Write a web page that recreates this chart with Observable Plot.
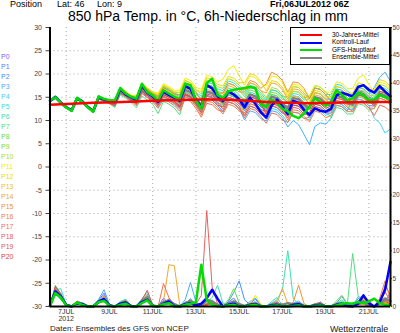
<!DOCTYPE html>
<html><head><meta charset="utf-8">
<script src="https://cdn.jsdelivr.net/npm/d3@7"></script>
<script src="https://cdn.jsdelivr.net/npm/@observablehq/plot@0.6"></script>
<style>
body{margin:0;background:#fff;}
#wrap{position:relative;width:400px;height:333px;overflow:hidden;font-family:"Liberation Sans",Arial,sans-serif;background:#fff;}
#wrap svg{position:absolute;left:0;top:0;}
.t{position:absolute;white-space:pre;line-height:1;}
</style></head><body><div id="wrap"></div>
<script>
// forecast hours from Fri 06JUL2012 06Z
const hours = [0,6,12,18,24,30,36,42,48,54,60,66,72,78,84,90,96,102,108,114,120,126,132,138,144,150,156,162,168,174,180,186,192,198,204,210,216,222,228,234,240,246,252,258,264,270,276,282,288,294,300,306,312,318,324,330,336,342,348,354,360,366,372,378];
const climHours = [0,24,48,72,96,120,144,168,192,216,240,264,288,312,336,360,378];
const dateTicks = [18,66,114,162,210,258,306,354];
const dateLabels = ["7JUL\n2012","9JUL","11JUL","13JUL","15JUL","17JUL","19JUL","21JUL"];
const tempTicks = [-30,-25,-20,-15,-10,-5,0,5,10,15,20,25,30];
const precipTicks = [0,5,10,15,20,25,30,35,40,45,50];
const memberNames = ["P0","P1","P2","P3","P4","P5","P6","P7","P8","P9","P10","P11","P12","P13","P14","P15","P16","P17","P18","P19","P20"];
const memberColors = ["#8060ff","#5a78ff","#4090ff","#40b0ff","#40d0ff","#30e0e0","#40e0b0","#50e080","#60e050","#80e030","#b0e020","#f0f000","#f0d800","#f0c020","#f0a830","#f09030","#f08040","#f07050","#e86060","#e05858","#e04040"];

// 850 hPa temperature (°C)
const climTemp = [13.4,13.6,13.8,13.9,14.1,14.3,14.4,14.5,14.5,14.3,14.0,13.8,13.7,13.8,13.9,14.0,14.0];
const gfsTemp = [14.3,15.0,13.8,12.8, 12.1,14.9,14.0,12.8, 11.9,15.2,14.6,14.4, 14.3,17.0,15.8,15.1, 14.7,17.9,16.1,15.4, 14.3,16.5,15.8,15.1, 14.6,17.9,17.6,14.3, 12.6,18.0,19.0,15.5, 14.8,16.3,16.6,16.8, 17.0,17.2,17.0,13.4, 12.9,14.5,13.8,12.5, 12.0,11.0,10.5,11.5, 13.0,14.8,14.0,13.2, 14.0,16.5,15.5,14.3, 14.8,16.0,15.5,14.3, 14.5,15.5,15.0,14.5];
const ctrlTemp = [14.2,15.1,13.9,12.9, 12.2,14.8,14.1,12.9, 12.0,15.0,14.5,14.2, 14.0,16.8,15.6,15.0, 14.5,17.5,16.0,15.2, 14.0,16.2,15.5,14.9, 14.2,17.4,16.8,14.5, 12.9,17.6,16.9,15.3, 14.2,16.3,15.6,14.6, 12.8,14.9,13.6,11.8, 10.6,13.2,14.5,13.0, 11.4,14.2,13.8,12.3, 11.2,12.6,12.1,11.9, 12.5,15.4,16.0,15.6, 15.2,17.2,17.6,16.6, 16.0,17.4,16.2,15.2];
const meanTemp = [14.2,14.9,13.8,12.8, 12.1,14.7,14.0,12.9, 12.0,14.9,14.4,13.9, 13.6,16.3,15.6,14.7, 14.2,16.8,15.9,15.0, 14.1,16.1,15.5,14.7, 14.0,16.6,16.1,14.6, 13.2,16.2,15.9,14.8, 13.9,16.0,15.6,14.6, 13.6,15.6,15.2,13.9, 12.9,15.1,14.8,13.6, 12.6,14.8,14.6,13.4, 12.7,15.0,14.7,13.6, 13.1,15.3,15.0,13.9, 13.4,15.6,15.3,14.2, 13.6,15.8,15.4,14.4];
const memberTemp = [
[14.2,15.0,13.7,12.9, 12.3,14.9,14.2,13.1, 11.9,14.8,14.3,13.8, 13.9,16.6,15.9,15.0, 14.7,17.3,16.4,15.5, 14.3,16.3,15.7,14.9, 13.5,16.1,15.6,14.1, 12.4,15.4,15.1,14.0, 12.9,15.0,14.6,13.6, 12.1,14.1,13.7,12.4, 11.9,14.1,13.8,12.6, 12.1,14.3,14.1,12.9, 12.7,15.0,14.7,13.6, 13.6,15.8,15.5,14.4, 14.2,16.4,16.1,15.0, 14.6,16.8,16.4,15.4],
[14.1,14.8,13.9,12.7, 11.9,14.5,13.8,12.7, 12.1,15.0,14.5,14.0, 13.3,16.0,15.3,14.4, 13.4,16.0,15.1,14.2, 13.1,15.1,14.5,13.7, 12.8,15.4,14.9,13.4, 11.7,14.7,14.4,13.3, 11.9,14.0,13.6,12.6, 11.1,13.1,12.7,11.4, 10.9,13.1,12.8,11.6, 11.1,13.3,13.1,11.9, 10.7,13.0,12.7,11.6, 11.6,13.8,13.5,12.4, 12.4,14.6,14.3,13.2, 13.1,15.3,14.9,13.9],
[14.3,15.0,13.9,12.9, 12.2,14.8,14.1,13.0, 12.3,15.2,14.7,14.2, 14.1,16.8,16.1,15.2, 15.0,17.6,16.7,15.8, 15.1,17.1,16.5,15.7, 14.5,17.1,16.6,15.1, 13.2,16.2,15.9,14.8, 13.4,15.5,15.1,14.1, 12.6,14.6,14.2,12.9, 12.4,14.6,14.3,13.1, 13.1,15.3,15.1,13.9, 13.7,16.0,15.7,14.6, 14.6,16.8,16.5,15.4, 14.4,16.6,16.3,15.2, 14.1,16.3,15.9,14.9],
[14.1,14.9,13.6,12.7, 12.1,14.7,13.9,12.8, 11.8,14.7,14.2,13.7, 13.1,15.8,15.1,14.2, 13.9,16.5,15.6,14.7, 13.6,15.6,15.0,14.2, 13.0,15.6,15.1,13.6, 11.7,14.7,14.4,13.3, 11.9,14.0,13.6,12.6, 10.1,12.1,11.7,10.4, 9.9,12.1,11.8,10.6, 8.6,10.0,9.1,7.0, 4.8,8.7,9.5,9.2, 10.5,13.3,13.0,12.0, 14.9,17.1,16.8,15.7, 17.1,19.3,20.4,18.4],
[14.2,14.8,13.8,12.9, 12.2,14.8,14.1,13.0, 12.0,14.9,14.4,13.9, 13.8,16.5,15.8,14.9, 13.7,16.3,15.4,14.5, 12.9,14.9,14.3,13.5, 12.5,15.1,14.6,13.1, 12.2,15.2,14.9,13.8, 13.4,15.5,15.1,14.1, 12.1,14.1,13.7,12.4, 10.4,12.6,12.3,11.1, 9.6,11.8,11.6,10.4, 10.2,12.5,12.2,11.1, 11.6,13.8,13.5,12.4, 12.4,14.6,14.3,13.2, 10.5,9.5,7.3,8.2],
[14.3,14.9,13.9,12.8, 12.1,14.7,14.0,12.9, 12.3,15.2,14.7,14.2, 14.2,16.9,16.2,15.3, 15.2,17.8,16.9,16.0, 15.3,17.3,16.7,15.9, 15.5,18.1,17.6,16.1, 15.2,18.2,17.9,16.8, 16.4,18.5,18.1,17.1, 15.6,17.6,17.2,15.9, 14.4,16.6,16.3,15.1, 13.6,15.8,15.6,14.4, 14.7,17.0,16.7,15.6, 15.6,17.8,17.5,16.4, 15.4,17.6,17.3,16.2, 15.1,17.3,16.9,15.9],
[14.1,14.8,13.7,12.7, 12.3,14.9,14.2,13.1, 12.0,14.9,14.4,13.9, 14.0,16.7,16.0,15.1, 14.8,17.4,16.5,15.6, 15.0,17.0,16.4,15.6, 15.2,17.8,17.3,15.8, 14.7,17.7,17.4,16.3, 14.9,17.0,16.6,15.6, 14.1,16.1,15.7,14.4, 14.4,16.6,16.3,15.1, 15.1,17.3,17.1,15.9, 14.7,17.0,16.7,15.6, 14.1,16.3,16.0,14.9, 13.9,16.1,15.8,14.7, 14.6,16.8,16.4,15.4],
[14.2,14.9,13.8,12.8, 12.0,14.6,13.9,12.8, 11.7,14.6,14.1,13.6, 12.8,15.5,14.8,13.9, 12.7,15.3,14.4,13.5, 11.5,14.1,13.5,12.7, 11.2,15.1,14.6,13.1, 12.2,15.2,14.9,13.8, 13.4,15.5,15.1,14.1, 13.6,15.6,15.2,13.9, 13.4,15.6,15.3,14.1, 12.1,14.3,14.1,12.9, 11.2,13.5,13.2,12.1, 10.6,12.8,12.5,11.4, 11.4,13.6,13.3,12.2, 12.6,14.8,14.4,13.4],
[14.4,15.1,14.0,13.0, 12.1,14.7,14.0,12.9, 12.2,15.1,14.6,14.1, 13.9,16.6,15.9,15.0, 14.4,17.0,16.1,15.2, 13.8,15.8,15.2,14.4, 13.5,16.1,15.6,14.1, 13.2,16.2,15.9,14.8, 14.4,16.5,16.1,15.1, 14.6,16.6,16.2,14.9, 13.4,15.6,15.3,14.1, 12.6,14.8,14.6,13.4, 12.2,14.5,14.2,13.1, 12.1,14.3,14.0,12.9, 12.9,15.1,14.8,13.7, 13.6,15.8,15.4,14.4],
[14.2,14.9,13.8,12.8, 12.3,14.9,14.2,13.1, 12.4,15.3,14.8,14.3, 14.1,16.8,16.1,15.2, 15.0,17.6,16.7,15.8, 14.6,16.6,16.0,15.2, 15.0,17.6,17.1,15.6, 14.7,17.7,17.4,16.3, 15.9,18.0,17.6,16.6, 15.1,17.1,16.7,15.4, 13.9,16.1,15.8,14.6, 14.1,16.3,16.1,14.9, 15.2,17.5,17.2,16.1, 15.1,17.3,17.0,15.9, 14.9,17.1,16.8,15.7, 14.6,16.8,16.4,15.4],
[14.3,15.0,13.9,12.9, 12.1,14.7,14.0,12.9, 12.2,15.1,14.6,14.1, 14.1,16.8,16.1,15.2, 15.1,17.7,16.8,15.9, 15.4,17.4,16.8,16.0, 16.0,18.6,18.1,16.6, 15.7,18.7,18.4,17.3, 16.9,19.0,18.6,17.6, 16.1,18.1,17.7,16.4, 14.9,17.1,16.8,15.6, 14.1,16.3,16.1,14.9, 13.7,16.0,15.7,14.6, 13.6,15.8,15.5,14.4, 14.4,16.6,16.3,15.2, 15.6,17.8,17.4,16.4],
[14.2,14.9,13.8,12.8, 12.3,14.9,14.2,13.1, 12.4,15.3,14.8,14.3, 14.3,17.0,16.3,15.4, 15.4,18.0,17.1,16.2, 15.9,17.9,17.3,16.5, 16.5,19.1,18.6,17.1, 16.7,19.7,19.4,18.3, 18.9,21.0,21.8,19.6, 17.6,19.6,19.2,17.9, 17.4,19.6,19.3,18.1, 15.6,17.8,17.6,16.4, 15.2,17.5,17.2,16.1, 16.1,18.3,18.0,16.9, 16.9,19.1,19.8,17.7, 16.1,18.3,17.9,16.9],
[14.3,15.0,13.9,12.9, 12.2,14.8,14.1,13.0, 12.3,15.2,14.7,14.2, 14.2,16.9,16.2,15.3, 15.2,17.8,16.9,16.0, 15.6,17.6,17.0,16.2, 16.0,18.6,18.1,16.6, 16.2,19.2,18.9,17.8, 17.4,19.5,19.1,18.1, 18.1,20.1,19.7,18.4, 16.4,18.6,18.3,17.1, 15.1,17.3,17.1,15.9, 14.2,16.5,16.2,15.1, 15.1,17.3,17.0,15.9, 15.9,18.1,17.8,16.7, 16.6,18.8,18.4,17.4],
[14.1,14.9,13.7,12.7, 12.1,14.7,14.0,12.9, 12.1,15.0,14.5,14.0, 13.8,16.5,15.8,14.9, 14.7,17.3,16.4,15.5, 14.9,16.9,16.3,15.5, 14.5,17.1,16.6,15.1, 13.2,16.2,15.9,14.8, 12.9,15.0,14.6,13.6, 11.6,13.6,13.2,11.9, 11.9,14.1,13.8,12.6, 13.1,15.3,15.1,13.9, 13.7,16.0,15.7,14.6, 13.1,15.3,15.0,13.9, 12.9,15.1,14.8,13.7, 14.1,16.3,15.9,14.9],
[14.2,14.9,13.8,12.8, 12.0,14.6,13.9,12.8, 12.0,14.9,14.4,13.9, 13.9,16.6,15.9,15.0, 14.6,17.2,16.3,15.4, 14.3,16.3,15.7,14.9, 14.0,16.6,16.1,14.6, 13.7,16.7,16.4,15.3, 15.4,17.5,17.1,16.1, 16.1,18.1,17.7,16.4, 15.9,18.1,17.8,16.6, 14.6,16.8,16.6,15.4, 13.2,15.5,15.2,14.1, 12.6,14.8,14.5,13.4, 13.4,15.6,15.3,14.2, 14.1,16.3,15.9,14.9],
[14.3,15.0,13.9,12.9, 12.1,14.7,14.0,12.9, 12.2,15.1,14.6,14.1, 14.1,16.8,16.1,15.2, 15.0,17.6,16.7,15.8, 15.1,17.1,16.5,15.7, 15.5,18.1,17.6,16.1, 14.2,17.2,16.9,15.8, 15.9,18.0,17.6,16.6, 16.6,18.6,18.2,16.9, 17.9,20.4,19.8,18.6, 16.1,18.3,18.1,16.9, 14.7,17.0,16.7,15.6, 14.1,16.3,16.0,14.9, 13.9,16.1,15.8,14.7, 13.6,15.8,15.4,14.4],
[14.2,14.8,13.8,12.8, 11.9,14.5,13.8,12.7, 11.8,14.7,14.2,13.7, 13.2,15.9,15.2,14.3, 13.6,16.2,15.3,14.4, 13.1,15.1,14.5,13.7, 12.5,15.1,14.6,13.1, 11.2,14.2,13.9,12.8, 11.4,13.5,13.1,12.1, 11.6,13.6,13.2,11.9, 11.4,13.6,13.3,12.1, 10.1,12.3,12.1,10.9, 9.7,12.0,11.7,10.6, 11.1,13.3,13.0,11.9, 11.9,14.1,13.8,12.7, 12.6,14.8,14.4,13.4],
[14.1,14.8,13.7,12.7, 12.1,14.7,14.0,12.9, 11.7,14.6,14.1,13.6, 13.1,15.8,15.1,14.2, 13.2,15.8,14.9,14.0, 12.6,14.6,14.0,13.2, 12.0,14.6,14.1,12.6, 10.7,13.7,13.4,12.3, 11.9,14.0,13.6,12.6, 10.6,12.6,12.2,10.9, 9.4,11.6,11.3,10.1, 9.6,11.8,11.6,10.4, 10.7,13.0,12.7,11.6, 12.1,14.3,14.0,12.9, 11.9,14.1,13.8,12.7, 11.1,13.3,12.9,11.9],
[14.2,14.9,13.8,12.8, 12.2,14.8,14.1,13.0, 11.9,14.8,14.3,13.8, 13.6,16.3,15.6,14.7, 14.0,16.6,15.7,14.8, 13.6,15.6,15.0,14.2, 13.2,15.8,15.3,13.8, 12.2,15.2,14.9,13.8, 12.4,14.5,14.1,13.1, 11.1,13.1,12.7,11.4, 10.9,13.1,12.8,11.6, 11.6,13.8,13.6,12.4, 12.7,15.0,14.7,13.6, 13.6,15.8,15.5,14.4, 13.4,15.6,15.3,14.2, 13.1,15.3,14.9,13.9],
[14.2,14.9,13.8,12.8, 12.0,14.6,13.9,12.8, 12.0,14.9,14.4,13.9, 13.4,16.1,15.4,14.5, 13.7,16.3,15.4,14.5, 13.3,15.3,14.7,13.9, 13.0,15.6,15.1,13.6, 11.7,14.7,14.4,13.3, 12.9,15.0,14.6,13.6, 13.1,15.1,14.7,13.4, 11.4,13.6,13.3,12.1, 10.6,12.8,12.6,11.4, 11.2,13.5,13.2,12.1, 12.6,14.8,14.5,13.4, 13.4,15.6,15.3,14.2, 14.1,16.3,15.9,14.9],
[14.3,15.0,13.9,12.9, 12.1,14.7,14.0,12.9, 11.9,14.8,14.3,13.8, 13.3,16.0,15.3,14.4, 13.7,16.3,15.4,14.5, 13.6,15.6,15.0,14.2, 13.0,15.6,15.1,13.6, 12.7,15.7,15.4,14.3, 13.9,16.0,15.6,14.6, 13.1,15.1,14.7,13.4, 11.9,14.1,13.8,12.6, 11.1,13.3,13.1,11.9, 11.7,14.0,13.7,12.6, 13.1,15.3,15.0,13.9, 13.9,16.1,15.8,14.7, 13.6,15.8,15.4,14.4]
];

// 6h precipitation (mm)
const gfsPrecip = [0.1,2.4,1.6,0.2, 0,0.7,0.3,0, 0,0.8,1.0,0.1, 0,0.3,0.5,0, 0,0.6,1.1,0.1, 0,0.4,0.6,0, 0,0.3,0.5,0.8, 7.5,1.2,0.3,0, 0,0.2,0.3,0, 0,0.2,0.3,0, 0,0.1,0.2,0, 0,0.1,0.2,0, 0,0.1,0.2,0, 0,0.2,0.5,0.6, 0.5,0.8,0.6,0.9, 1.4,0.6,0.3,0.2];
const ctrlPrecip = [0.2,2.7,1.8,0.3, 0,0.6,0.4,0, 0,0.9,1.3,0.2, 0,0.5,0.7,0.1, 0,0.8,1.2,0.1, 0,0.5,0.9,0.1, 0,0.4,0.6,0.2, 0.5,1.5,3.0,1.4, 0,0.3,0.5,0, 0,0.3,0.4,0, 0,0.2,0.3,0, 0,0.3,0.4,0, 0,0.2,0.3,0, 0,0.3,0.5,0.1, 0,0.5,2.0,0.6, 0,0.8,3.0,8.0];
const meanPrecip = [0.2,2.9,1.8,0.3, 0,0.7,0.5,0, 0,0.8,1.4,0.2, 0,0.5,0.8,0.1, 0,1.0,1.6,0.2, 0,0.8,1.1,0.4, 0,0.5,1.0,0.4, 0.2,1.2,0.9,0.3, 0,0.5,0.9,0.4, 0.1,0.4,0.6,0.1, 0,0.3,0.5,0.3, 0.6,0.4,0.6,0.1, 0,0.3,0.5,0, 0,0.4,0.6,0.1, 0.5,0.6,0.9,0.2, 0,0.7,1.4,1.0];
const memberPrecip = [
[0.2,2.8,1.5,0.3, 0,0.8,0.4,0, 0,0.9,2.0,0.2, 0,0.6,0.9,0.1, 0,1.2,2.2,0.3, 0,1.5,0.6,0, 0,0.8,0.9,0.1, 0.2,0.9,0.6,0.2, 0,0.4,0.5,0, 0,0.6,1.3,0.2, 0,0.2,0.4,0, 0,0.3,0.5,0, 0,0.2,0.8,0.1, 0,0.4,0.3,0, 0,0.8,1.1,0.2, 0,0.5,1.2,0.6],
[0.1,3.2,1.8,0.2, 0,0.6,0.5,0, 0,1.1,2.4,0.3, 0,0.4,0.7,0, 0,0.9,1.6,0.2, 0,0.7,1.0,0.1, 0,0.5,1.4,0.2, 0,0.3,0.5,0, 0,0.8,1.5,0.3, 0,0.2,0.4,0, 0,0.5,0.7,0.1, 0,0.1,0.3,0, 0,0.4,0.6,0, 0,0.2,0.5,0, 0,1.4,2.0,0.3, 0,0.6,1.0,2.5],
[0.2,2.5,1.2,0.2, 0,0.9,0.3,0, 0,0.7,1.6,0.1, 0,0.5,0.8,0.1, 0,1.0,1.8,0.1, 0,0.4,0.9,0.1, 0,0.6,0.7,0, 0,0.4,0.8,0.5, 0,0.9,2.5,4.6, 1.2,0.3,0.2,0, 0,0.1,0.3,0, 0,0.2,0.4,0, 0,0.1,0.2,0, 0,0.6,1.8,0.4, 0,0.5,0.9,0.2, 0,1.2,0.8,0.3],
[0.1,2.2,1.4,0.2, 0,0.7,0.4,0, 0,1.3,3.0,0.4, 0,0.6,1.0,0.1, 0,0.8,1.3,0.1, 0,0.5,1.1,0.2, 0,1.2,4.3,0.8, 0,0.2,0.4,0.1, 0,0.3,0.6,0, 0,0.9,1.5,0.3, 0,0.4,0.6,0, 0,0.2,0.2,0, 0,0.5,0.3,0, 0,0.3,0.4,0, 0,1.0,2.0,0.4, 0,0.3,0.6,0.2],
[0.3,3.5,2.0,0.3, 0,0.5,0.3,0, 0,0.8,1.4,0.1, 0,0.7,1.1,0.2, 0,1.0,1.9,0.2, 0,0.4,0.8,0, 0,0.6,1.0,0.1, 0,0.5,1.2,0.3, 0,0.2,0.4,0, 0,0.4,0.9,0.2, 0,0.2,0.3,0, 0,0.6,1.0,0.2, 0,0.3,0.5,0, 0,0.2,0.3,0, 0,1.8,1.3,0.2, 0,0.4,0.8,0.3],
[0.2,3.0,3.2,0.4, 0,1.0,0.5,0, 0,0.6,1.2,0.1, 0,0.9,1.3,0.2, 0,0.7,1.4,0.1, 0,0.3,0.6,0, 0,0.4,0.8,0.2, 0,0.6,0.9,0.4, 0,0.4,0.7,0.1, 0,0.3,0.6,0, 0,0.9,1.6,0.2, 0,0.2,0.4,0, 0,0.3,0.6,0.1, 0,0.5,0.9,0.2, 0,0.4,0.7,0.1, 0,0.8,1.5,0.5],
[0.1,2.6,1.9,0.3, 0,0.8,0.6,0, 0,1.0,1.8,0.2, 0,0.4,0.6,0, 0,1.4,2.6,0.3, 0,0.6,0.7,0, 0,0.3,0.5,0.1, 0,0.8,1.6,3.8, 0.6,0.5,0.8,0.1, 0,0.4,0.5,0, 0,0.6,1.2,3.0, 10.0,1.5,0.3,0, 0,0.2,0.4,0, 0,0.3,0.6,0.1, 0,0.5,0.6,0, 0,0.3,0.5,0.2],
[0.2,3.8,2.2,0.4, 0,0.6,0.4,0, 0,0.9,1.5,0.2, 0,0.5,0.7,0.1, 0,1.1,1.7,0.2, 0,0.8,1.3,0.3, 0,0.5,0.9,0.1, 0,0.4,0.6,0.1, 0,0.5,1.0,0.1, 0,0.2,0.3,0, 0,0.3,0.5,0, 0,0.5,0.8,0.1, 0,0.3,0.7,0.1, 0,0.6,1.2,0.3, 9.5,2.0,0.4,0, 0,0.4,0.7,0.2],
[0.1,2.9,1.6,0.3, 0,0.9,0.5,0, 0,0.6,1.1,0.1, 0,0.8,1.2,0.2, 0,0.9,1.5,0.1, 0,0.5,0.8,0.1, 0,0.7,1.1,0.2, 0,0.5,0.7,0.1, 0,1.2,3.2,0.6, 0,0.3,0.5,0, 0,0.2,0.4,0, 0,0.3,0.6,0.1, 0,0.4,0.8,0.1, 0,1.0,2.0,0.5, 0,0.3,0.5,0, 0,0.6,0.9,0.3],
[0.2,3.3,2.4,0.3, 0,0.7,0.6,0, 0,0.8,1.7,0.2, 0,0.6,0.9,0.1, 0,1.3,2.0,0.2, 0,0.4,0.6,0, 0,0.5,0.8,0.1, 0,0.6,1.0,0.2, 0,0.6,0.9,0.1, 0,0.5,0.7,0, 0,0.3,0.5,0, 0,0.4,0.6,0, 0,0.2,0.5,0, 0,0.4,0.7,0.1, 0,0.6,0.8,0.1, 0,0.5,0.8,0.3],
[0.1,2.4,1.3,0.2, 0,0.6,0.4,0, 0,0.7,1.3,0.1, 0,0.4,0.6,0, 0,0.8,1.2,0.1, 0,0.3,0.5,0, 0,0.4,0.6,0, 0,0.3,0.5,0.1, 0,0.4,0.6,0, 0,0.3,0.4,0, 0,0.2,0.3,0, 0,0.2,0.4,0, 0,0.3,0.4,0, 0,0.2,0.3,0, 0,0.5,0.8,0.1, 0,0.3,0.5,0.1],
[0.2,2.7,1.7,0.2, 0,0.5,0.3,0, 0,0.9,1.4,0.2, 0,0.3,0.5,0, 0,0.6,1.0,0.1, 0,0.4,0.7,0, 0,0.3,0.5,0, 0,0.4,0.6,0.1, 0,0.3,0.5,0, 0,0.6,2.0,0.4, 0,0.2,0.3,0, 0,0.3,0.5,0, 0,0.2,0.3,0, 0,0.3,0.5,0, 0,0.4,0.6,0, 0,1.3,0.9,0.2],
[0.1,3.1,2.0,0.3, 0,0.7,0.5,0, 0,0.8,1.5,0.1, 0,0.5,0.8,0.1, 0,0.9,1.4,0.2, 0,0.6,0.9,0.1, 0,0.5,0.7,0.1, 0,0.3,0.4,0, 0,0.2,0.4,0, 0,0.4,0.8,0.1, 0,0.3,0.5,0, 0,0.2,0.3,0, 0,0.4,0.6,0, 0,0.2,0.4,0, 0,0.5,1.5,0.3, 0,0.4,0.7,0.2],
[0.2,2.3,1.5,0.2, 0,0.8,0.4,0, 0,0.7,1.2,0.1, 0,0.6,1.0,0.1, 0,1.0,1.6,0.2, 0,0.5,1.4,0.2, 0,0.4,0.6,0, 0,0.5,0.8,0.1, 0,0.3,0.5,0, 0,0.5,0.7,0.1, 0,0.3,0.4,0, 0,0.4,0.7,0.1, 0,0.3,0.5,0, 0,0.2,0.4,0, 0,0.3,1.2,0.4, 0,0.6,1.0,0.3],
[0.1,2.9,1.8,0.3, 0,0.6,0.4,0, 0,1.0,1.9,0.2, 0,0.5,0.8,0.1, 0,0.8,1.3,0.1, 0,0.9,7.5,7.3, 0.3,0.4,0.6,0, 0,0.3,0.5,0.1, 0,0.4,0.6,0, 0,0.3,0.5,0, 0,0.2,0.6,3.3, 0.4,0.2,0.3,0, 0,0.2,0.4,0, 0,0.3,0.5,0, 0,0.4,0.7,0.1, 0,0.9,1.6,0.4],
[0.2,3.4,2.1,0.3, 0,0.7,0.5,0, 0,0.6,1.0,0.1, 0,0.6,0.9,0.1, 0,1.1,1.8,0.2, 0,0.6,1.0,0.1, 0,0.5,0.9,0.1, 0,0.4,0.6,0, 0,0.3,0.5,0, 0,0.4,0.6,0, 0,0.3,0.5,0, 0,0.8,3.8,0.5, 0,0.3,0.5,0, 0,0.2,0.4,0, 0,0.6,1.4,1.1, 0,0.5,0.8,0.2],
[0.1,2.6,1.7,0.2, 0,0.5,0.4,0, 0,0.8,1.3,0.2, 0,0.4,0.7,0, 0,0.9,1.4,0.2, 0,0.5,0.8,0.1, 0,0.6,0.8,0.1, 0,0.5,0.7,0.1, 0,0.3,0.6,0, 0,0.3,0.4,0, 0,0.4,0.6,0, 0,0.3,0.5,0, 0,0.2,0.4,0, 0,0.3,0.5,0, 0,0.4,0.6,0.1, 0,1.5,4.6,1.2],
[0.2,3.0,1.9,0.3, 0,0.6,0.5,0, 0,0.7,1.2,0.1, 0,0.7,1.1,0.2, 0,0.8,1.5,0.2, 0,4.1,1.6,0.2, 0,0.4,0.6,0, 0,0.3,0.5,0.1, 0,0.4,0.7,0.1, 0,0.3,0.5,0, 0,0.5,0.9,0.1, 0,0.3,0.4,0, 0,0.5,0.7,0.1, 0,0.4,0.6,0, 0,0.3,0.5,0, 0,0.8,3.8,2.0],
[0.1,2.5,1.5,0.2, 0,0.9,0.6,0, 0,0.6,1.1,0.1, 0,0.5,0.9,0.1, 0,1.0,1.7,0.2, 0,0.6,1.2,0.2, 0,0.5,1.0,0.4, 2.0,17.2,3.5,0.5, 0,0.3,0.5,0, 0,0.4,0.6,0, 0,0.3,0.4,0, 0,0.2,0.4,0, 0,0.3,0.5,0, 0,0.5,0.7,0.1, 0,0.4,0.6,0.1, 0,0.7,1.5,0.8],
[0.2,2.8,1.6,0.3, 0,0.7,0.4,0, 0,0.9,1.6,0.2, 0,0.4,0.6,0, 0,1.2,2.9,0.3, 0,0.5,0.9,0.1, 0,0.4,0.7,0.1, 0,0.3,0.6,0.1, 0,0.5,0.8,0.1, 0,0.4,0.5,0, 0,0.2,0.4,0, 0,0.3,0.5,0, 0,0.4,0.6,0, 0,0.3,0.4,0, 0,0.5,0.7,0.1, 0,0.9,2.6,1.0],
[0.1,3.6,2.3,0.3, 0,0.8,0.5,0, 0,0.7,1.2,0.1, 0,0.6,0.8,0.1, 0,0.9,1.3,0.1, 0,0.7,1.1,0.1, 0,0.6,0.9,0.2, 0,0.4,0.7,0.1, 0,0.3,0.4,0, 0,0.3,0.6,0, 0,0.4,0.5,0, 0,0.2,0.3,0, 0,0.3,0.4,0, 0,0.2,0.3,0, 0,0.4,0.8,0.1, 0,0.5,1.0,0.4]
];

// precipitation shares the frame: right axis 0..50 mm spans the -30..30 °C range
const pY = p => -30 + p * 60 / 50;

const marks = [
  Plot.ruleY(tempTicks.slice(1, -1), {stroke: "#aaa", strokeDasharray: "1,3"}),
  Plot.ruleX(dateTicks, {stroke: "#aaa", strokeDasharray: "1,3"}),
  Plot.axisY({anchor: "left", ticks: tempTicks, tickFormat: d => String(d), tickSize: 4, tickPadding: 4, label: null, fontSize: 7, color: "#444"}),
  Plot.axisY({anchor: "right", ticks: precipTicks.map(pY), tickFormat: d => String(Math.round((d + 30) * 50 / 60)), tickSize: 1, tickPadding: 1, label: null, fontSize: 6.5, color: "#444"}),
  Plot.axisX({ticks: dateTicks, tickFormat: d => dateLabels[dateTicks.indexOf(d)], tickSize: 0, tickPadding: 3, label: null, fontSize: 7, lineHeight: 0.95, color: "#333"})
];
memberPrecip.forEach((arr, i) => marks.push(Plot.line(arr, {x: (d, k) => hours[k], y: d => pY(d), stroke: memberColors[i], strokeWidth: 1})));
marks.push(Plot.line(meanPrecip, {x: (d, k) => hours[k], y: d => pY(d), stroke: "#808080", strokeWidth: 2.5}));
marks.push(Plot.line(ctrlPrecip, {x: (d, k) => hours[k], y: d => pY(d), stroke: "#0000ff", strokeWidth: 2.5}));
marks.push(Plot.line(gfsPrecip, {x: (d, k) => hours[k], y: d => pY(d), stroke: "#00dd00", strokeWidth: 2.5}));
memberTemp.forEach((arr, i) => marks.push(Plot.line(arr, {x: (d, k) => hours[k], y: d => d, stroke: memberColors[i], strokeWidth: 1})));
marks.push(Plot.line(meanTemp, {x: (d, k) => hours[k], y: d => d, stroke: "#808080", strokeWidth: 2.5}));
marks.push(Plot.line(ctrlTemp, {x: (d, k) => hours[k], y: d => d, stroke: "#0000ff", strokeWidth: 2.5}));
marks.push(Plot.line(gfsTemp, {x: (d, k) => hours[k], y: d => d, stroke: "#00dd00", strokeWidth: 2.5}));
marks.push(Plot.line(climTemp, {x: (d, k) => climHours[k], y: d => d, stroke: "#ff0000", strokeWidth: 2.5}));
marks.push(Plot.ruleX([0, 378], {stroke: "#000", strokeWidth: 2}));
marks.push(Plot.ruleY([-30], {stroke: "#000", strokeWidth: 2}));

const chart = Plot.plot({
  width: 400, height: 333,
  marginLeft: 49.5, marginRight: 10, marginTop: 27, marginBottom: 27,
  x: {domain: [0, 378]},
  y: {domain: [-30, 30]},
  style: {fontFamily: "Liberation Sans, Arial, sans-serif", background: "transparent"},
  marks
});
const wrap = document.getElementById("wrap");
wrap.appendChild(chart);

function txt(s, x, y, size, color, extra) {
  const d = document.createElement("div");
  d.className = "t";
  d.textContent = s;
  d.style.left = x + "px"; d.style.top = y + "px";
  d.style.fontSize = size + "px"; d.style.color = color || "#000";
  if (extra) Object.assign(d.style, extra);
  wrap.appendChild(d);
  return d;
}
txt("Position", 10, 0, 9, "#000");
txt("Lat: 46", 57, 0, 9, "#000");
txt("Lon: 9", 97, 0, 9, "#000");
txt("Fri,06JUL2012 06Z", 270, 0, 9, "#000", {fontWeight: "bold"});
txt("850 hPa Temp. in °C, 6h-Niederschlag in mm", 68, 9, 14, "#000");
txt("Daten: Ensembles des GFS von NCEP", 50, 325, 8, "#222");
txt("Wetterzentrale", 330, 325, 9, "#222");
memberNames.forEach((n, i) => txt(n, 1, 53 + i * 10, 7, memberColors[i]));

// legend box
const box = document.createElement("div");
Object.assign(box.style, {position: "absolute", left: "290px", top: "27px", width: "100px", height: "38px", border: "1px solid #000", background: "#fff", boxSizing: "border-box"});
wrap.appendChild(box);
const legendNames = ["30-Jahres-Mittel", "Kontroll-Lauf", "GFS-Hauptlauf", "Ensemble-Mittel"];
const legendColors = ["#ff0000", "#0000ff", "#00dd00", "#808080"];
legendNames.forEach((n, i) => {
  const ly = 34 + i * 7.5;
  const l = document.createElement("div");
  Object.assign(l.style, {position: "absolute", left: "300px", top: ly + "px", width: "22px", height: "2px", background: legendColors[i]});
  wrap.appendChild(l);
  txt(n, 332, ly - 2.5, 6.5, "#000");
});
</script></body></html>
